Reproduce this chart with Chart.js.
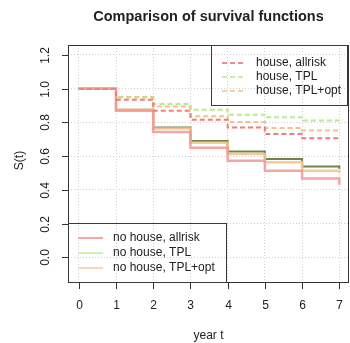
<!DOCTYPE html>
<html>
<head>
<meta charset="utf-8">
<script src="https://cdn.jsdelivr.net/npm/chart.js@4/dist/chart.umd.min.js"></script>
<style>
  html, body { margin: 0; padding: 0; background: #ffffff; }
  #wrap { width: 350px; height: 343px; }
</style>
</head>
<body>
<div id="wrap"><canvas id="c" width="350" height="343"></canvas></div>
<script>
// Years of observation and axis ticks
const years = [0, 1, 2, 3, 4, 5, 6, 7];
const xTicks = [0, 1, 2, 3, 4, 5, 6, 7];
const yTicks = [0, 0.2, 0.4, 0.6, 0.8, 1.0, 1.2];

// Kaplan-Meier style survival estimates S(t) on [t, t+1); last entry is the value at t = 7
const noHouseAllrisk = [1.000, 0.869, 0.743, 0.650, 0.573, 0.513, 0.468, 0.430];
const noHouseTPL     = [1.000, 0.875, 0.770, 0.690, 0.628, 0.583, 0.539, 0.525];
const noHouseTPLopt  = [1.000, 0.875, 0.764, 0.680, 0.613, 0.563, 0.513, 0.500];
const houseAllrisk   = [1.000, 0.935, 0.869, 0.816, 0.770, 0.731, 0.706, 0.700];
const houseTPL       = [1.000, 0.951, 0.909, 0.875, 0.846, 0.830, 0.811, 0.808];
const houseTPLopt    = [1.000, 0.948, 0.895, 0.836, 0.802, 0.767, 0.752, 0.748];

const seriesLabels = {
  house: ['house, allrisk', 'house, TPL', 'house, TPL+opt'],
  noHouse: ['no house, allrisk', 'no house, TPL', 'no house, TPL+opt']
};

// Turn interval values into step-function points
function steps(v) {
  const pts = years.slice(0, 7).map((t, i) => ({ x: t, y: v[i] }));
  pts.push({ x: 7, y: v[6] });
  pts.push({ x: 7, y: v[7] });
  return pts;
}

const FONT = '"Liberation Sans", Arial, Helvetica, sans-serif';

function line(label, values, color, width, dash) {
  return {
    label: label,
    data: steps(values),
    borderColor: color,
    borderWidth: width,
    borderDash: dash || [],
    stepped: 'before',
    pointRadius: 0,
    fill: false,
    tension: 0
  };
}

const datasets = [
  line(seriesLabels.house[0], houseAllrisk, '#f07c7c', 2, [5, 3]),
  line(seriesLabels.house[2], houseTPLopt, '#f2c38a', 2, [5, 3]),
  line(seriesLabels.house[1], houseTPL, '#b6ec8c', 2, [5, 3]),
  line(seriesLabels.noHouse[0], noHouseAllrisk, 'rgba(242,150,150,0.85)', 2.5),
  line(seriesLabels.noHouse[2], noHouseTPLopt, 'rgba(242,198,140,0.9)', 2.5),
  line(seriesLabels.noHouse[1], noHouseTPL, 'rgba(98,118,52,0.9)', 2)
];

// Frame, ticks, labels, title and legends drawn in base-graphics style
const decorations = {
  id: 'decorations',
  afterDraw(chart) {
    const ctx = chart.ctx;
    const a = chart.chartArea;
    const xs = chart.scales.x, ys = chart.scales.y;
    ctx.save();
    ctx.strokeStyle = '#333333';
    ctx.lineWidth = 1;
    ctx.strokeRect(a.left + 0.5, a.top + 0.5, a.right - a.left - 1, a.bottom - a.top);

    ctx.fillStyle = '#222222';
    ctx.font = '12px ' + FONT;
    ctx.textAlign = 'center';
    ctx.textBaseline = 'middle';
    xTicks.forEach(v => {
      const px = Math.round(xs.getPixelForValue(v)) + 0.5;
      ctx.beginPath();
      ctx.moveTo(px, a.bottom);
      ctx.lineTo(px, a.bottom + 7);
      ctx.stroke();
      ctx.fillText(String(v), px, 306);
    });
    yTicks.forEach(v => {
      const py = Math.round(ys.getPixelForValue(v)) + 0.5;
      ctx.beginPath();
      ctx.moveTo(a.left - 6, py);
      ctx.lineTo(a.left, py);
      ctx.stroke();
      ctx.save();
      ctx.translate(46, py);
      ctx.rotate(-Math.PI / 2);
      ctx.fillText(v.toFixed(1), 0, 0);
      ctx.restore();
    });

    // axis titles
    ctx.fillText('year t', (a.left + a.right) / 2, 336);
    ctx.save();
    ctx.translate(20, (a.top + a.bottom) / 2 - 3);
    ctx.rotate(-Math.PI / 2);
    ctx.fillText('S(t)', 0, 0);
    ctx.restore();

    // main title
    ctx.font = 'bold 14.5px ' + FONT;
    ctx.fillText('Comparison of survival functions', (a.left + a.right) / 2, 17);

    // legends
    ctx.font = '12px ' + FONT;
    ctx.textAlign = 'left';
    function legend(box, rows, sx0, sx1, tx) {
      ctx.strokeStyle = '#3a3a3a';
      ctx.lineWidth = 1;
      ctx.setLineDash([]);
      ctx.strokeRect(box[0] + 0.5, box[1] + 0.5, box[2], box[3]);
      rows.forEach(r => {
        ctx.strokeStyle = r.color;
        ctx.lineWidth = 2;
        ctx.setLineDash(r.dash);
        ctx.beginPath();
        ctx.moveTo(sx0, r.y);
        ctx.lineTo(sx1, r.y);
        ctx.stroke();
        ctx.setLineDash([]);
        ctx.fillStyle = '#222222';
        ctx.fillText(r.text, tx, r.y);
      });
    }
    legend([211, 45, 136, 60], [
      { text: seriesLabels.house[0], color: '#f08c8c', dash: [5, 3], y: 63 },
      { text: seriesLabels.house[1], color: '#c6f2a2', dash: [5, 3], y: 77 },
      { text: seriesLabels.house[2], color: '#f5d0a2', dash: [5, 3], y: 91 }
    ], 222, 244, 256);
    legend([68, 223, 158, 59], [
      { text: seriesLabels.noHouse[0], color: '#f4a6a6', dash: [], y: 238 },
      { text: seriesLabels.noHouse[1], color: '#ccf5b2', dash: [], y: 253 },
      { text: seriesLabels.noHouse[2], color: '#f7d9b2', dash: [], y: 268 }
    ], 78, 103, 113);
    ctx.restore();
  }
};

new Chart(document.getElementById('c'), {
  type: 'line',
  data: { datasets: datasets },
  options: {
    responsive: false,
    animation: false,
    devicePixelRatio: 1,
    layout: { padding: { top: 45, right: 1, left: 0, bottom: 0 } },
    plugins: { legend: { display: false }, title: { display: false }, tooltip: { enabled: false } },
    scales: {
      x: {
        type: 'linear',
        min: -0.29,
        max: 7.26,
        afterBuildTicks: s => { s.ticks = xTicks.map(v => ({ value: v })); },
        afterFit: s => { s.height = 61; },
        ticks: { display: false },
        grid: { color: '#cfcfcf', lineWidth: 1, drawTicks: false },
        border: { display: false, dash: [1, 2] }
      },
      y: {
        type: 'linear',
        min: -0.1465,
        max: 1.259,
        afterBuildTicks: s => { s.ticks = yTicks.map(v => ({ value: v })); },
        afterFit: s => { s.width = 68; },
        ticks: { display: false },
        grid: { color: '#cfcfcf', lineWidth: 1, drawTicks: false },
        border: { display: false, dash: [1, 2] }
      }
    }
  },
  plugins: [decorations]
});
</script>
</body>
</html>
